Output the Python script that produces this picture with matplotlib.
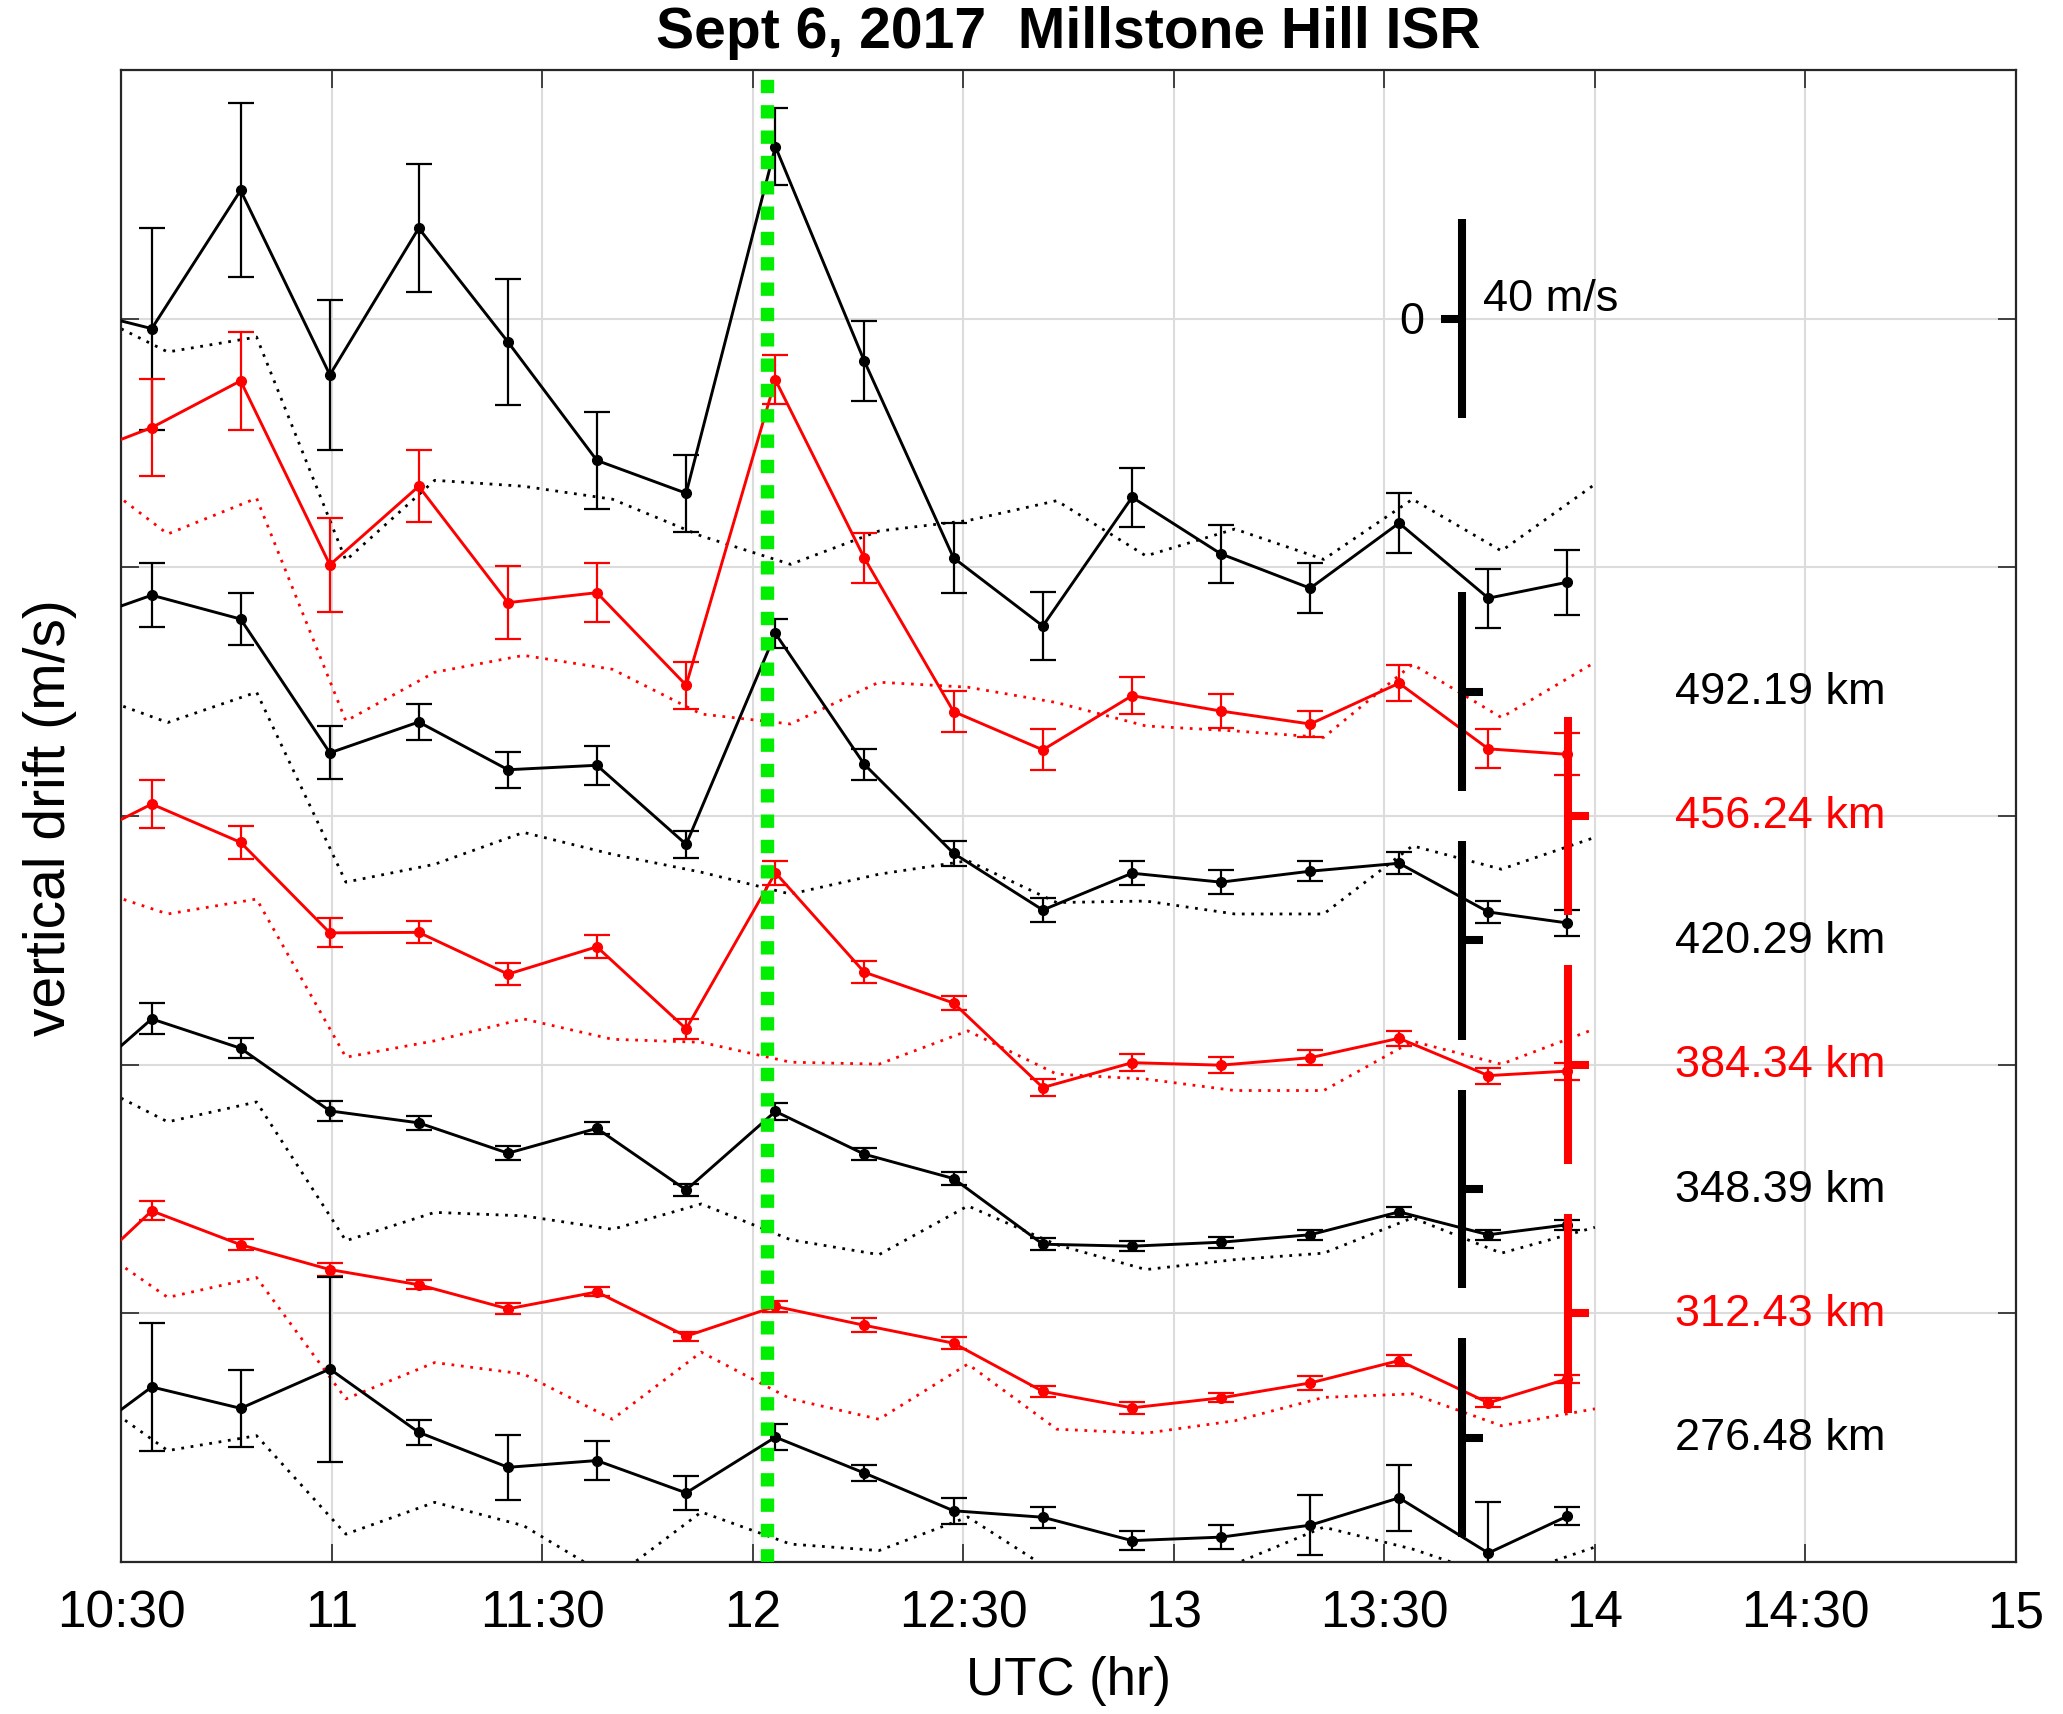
import matplotlib
matplotlib.use("Agg")
import matplotlib.pyplot as plt

plt.rcParams["font.family"] = ["Liberation Sans", "DejaVu Sans"]

# radar sample times (UTC hr); first one sits just left of the plotted window
t_obs = [10.362, 10.573, 10.784, 10.996, 11.207, 11.419, 11.630, 11.842, 12.054,
         12.265, 12.477, 12.689, 12.901, 13.112, 13.324, 13.535, 13.747, 13.934]
# model curve times (UTC hr)
t_model = [10.400, 10.611, 10.822, 11.034, 11.245, 11.456, 11.667, 11.878, 12.090,
           12.300, 12.511, 12.722, 12.934, 13.145, 13.356, 13.567, 13.778, 14.000]

alt_labels = ["492.19 km", "456.24 km", "420.29 km", "384.34 km",
              "348.39 km", "312.43 km", "276.48 km"]
alt_offsets = [175, 150, 125, 100, 75, 50, 25]
alt_colors = ["black", "red", "black", "red", "black", "red", "black"]

# vertical drift (m/s), 1-sigma error (m/s) and model drift (m/s) per altitude
v492 = [77.5, 73.0, 100.8, 63.7, 93.2, 70.3, 46.5, 39.9, 109.6, 66.5, 26.9, 13.2, 39.1, 27.7, 20.8, 33.9, 18.8, 22.0]
e492 = [20.3, 20.3, 17.5, 15.1, 12.9, 12.6, 9.8, 7.7, 7.8, 8.1, 7.1, 6.9, 5.9, 5.9, 5.0, 6.0, 5.9, 6.5]
m492 = [77.2, 68.3, 71.3, 26.4, 42.5, 41.3, 38.7, 31.3, 25.6, 32.3, 34.4, 38.4, 27.3, 32.7, 26.6, 38.7, 28.3, 41.7]

v456 = [71.2, 78.1, 87.5, 50.5, 66.3, 42.9, 44.9, 26.3, 87.7, 51.9, 21.0, 13.3, 24.2, 21.1, 18.5, 26.7, 13.5, 12.4]
e456 = [9.7, 9.7, 9.8, 9.4, 7.2, 7.3, 5.9, 4.7, 4.9, 5.0, 4.1, 4.1, 3.7, 3.5, 2.7, 3.6, 3.9, 4.2]
m456 = [70.3, 56.7, 63.9, 19.1, 28.9, 32.3, 29.5, 20.5, 18.5, 26.9, 25.9, 22.8, 18.1, 17.1, 15.8, 30.5, 19.8, 30.9]

v420 = [63.1, 69.4, 64.6, 37.7, 43.9, 34.3, 35.2, 19.3, 61.7, 35.4, 17.5, 6.1, 13.5, 11.7, 13.9, 15.5, 5.7, 3.5]
e420 = [6.4, 6.4, 5.2, 5.3, 3.7, 3.6, 3.9, 2.7, 2.9, 3.1, 2.5, 2.5, 2.4, 2.4, 2.0, 2.2, 2.3, 2.6]
m420 = [50.3, 43.8, 49.9, 11.7, 15.3, 21.7, 17.3, 13.7, 9.3, 13.3, 16.0, 7.6, 7.9, 5.3, 5.3, 19.0, 14.3, 20.7]

v384 = [43.4, 52.4, 44.7, 26.5, 26.6, 18.2, 23.7, 7.2, 38.6, 18.6, 12.4, -4.6, 0.4, -0.1, 1.4, 5.3, -2.2, -1.3]
e384 = [4.8, 4.8, 3.3, 2.9, 2.2, 2.2, 2.3, 2.0, 2.4, 2.2, 1.5, 1.7, 1.7, 1.6, 1.5, 1.5, 1.6, 1.7]
m384 = [36.2, 30.3, 33.3, 1.5, 4.8, 9.2, 5.1, 4.5, 0.5, 0.1, 6.8, -1.9, -2.9, -5.2, -5.2, 4.7, 0.1, 7.2]

v348 = [18.5, 34.2, 28.3, 15.7, 13.3, 7.2, 12.2, -0.2, 15.6, 7.0, 2.1, -11.1, -11.5, -10.7, -9.2, -4.6, -9.2, -7.2]
e348 = [3.1, 3.1, 2.0, 1.95, 1.45, 1.35, 1.2, 1.3, 1.7, 1.25, 1.25, 1.2, 1.05, 1.1, 1.05, 1.05, 1.05, 1.0]
m348 = [22.6, 13.5, 17.5, -10.4, -4.7, -5.4, -8.1, -3.0, -10.2, -13.2, -3.4, -11.2, -16.2, -14.2, -12.9, -5.8, -12.9, -7.7]

v312 = [3.8, 20.6, 13.8, 8.8, 5.75, 0.9, 4.3, -4.6, 1.4, -2.4, -6.0, -15.7, -19.0, -17.0, -14.0, -9.5, -18.0, -13.2]
e312 = [1.9, 1.9, 1.1, 1.35, 0.95, 1.1, 0.9, 0.9, 1.15, 1.4, 1.2, 1.15, 1.2, 0.9, 1.35, 1.15, 0.9, 0.9]
m312 = [15.6, 3.2, 7.2, -17.2, -9.9, -12.2, -21.3, -7.8, -17.2, -21.3, -10.2, -23.3, -24.1, -21.6, -16.9, -16.2, -22.6, -19.2]

v276 = [-3.05, 10.2, 5.9, 13.8, 1.08, -5.96, -4.6, -11.1, 0.1, -7.1, -14.7, -16.0, -20.7, -20.0, -17.6, -12.1, -23.2, -15.8]
e276 = [12.9, 12.85, 7.75, 18.6, 2.5, 6.5, 3.95, 3.35, 2.6, 1.6, 2.6, 2.1, 1.95, 2.35, 6.05, 6.7, 10.3, 1.85]
m276 = [10.1, -2.6, 0.4, -19.4, -13.0, -17.7, -28.4, -14.95, -21.4, -22.7, -15.95, -27.4, -32.4, -25.4, -18.0, -22.4, -28.4, -22.0]

drifts = [v492, v456, v420, v384, v348, v312, v276]
errors = [e492, e456, e420, e384, e348, e312, e276]
models = [m492, m456, m420, m384, m348, m312, m276]

flare_time = 12.033          # X9.3 flare peak
scale_half = 20              # half length of each 40 m/s reference bar
scale_zero = 250             # where the legend bar sits on the stacked axis

xticks = [10.5, 11, 11.5, 12, 12.5, 13, 13.5, 14, 14.5, 15]
xtick_labels = ["10:30", "11", "11:30", "12", "12:30", "13", "13:30", "14", "14:30", "15"]


def main():
    fig = plt.figure(figsize=(20.63, 17.15), dpi=100)
    ax = fig.add_axes([121 / 2063, 152 / 1715, 1895 / 2063, 1492 / 1715])

    ax.set_xlim(10.5, 15)
    ax.set_ylim(0, 300)

    # stacked drift profiles: model dotted, measurement with error bars
    for vals, errs, mod, off, col in zip(drifts, errors, models, alt_offsets, alt_colors):
        ax.plot(t_model, [m + off for m in mod], color=col, lw=2.0,
                linestyle=(0, (1, 2.4)), zorder=2)
        ax.errorbar(t_obs, [v + off for v in vals], yerr=errs, fmt="-o", color=col,
                    lw=2.1, ms=7, elinewidth=1.6, capsize=9.5, capthick=1.6, zorder=3)

    # per-altitude 40 m/s bars with a zero tick
    for off, col, lab in zip(alt_offsets, alt_colors, alt_labels):
        xb = 13.685 if col == "black" else 13.935
        ax.plot([xb, xb], [off - scale_half, off + scale_half], color=col, lw=5.8,
                solid_capstyle="butt", zorder=4)
        ax.plot([xb, xb + 0.05], [off, off], color=col, lw=5.8,
                solid_capstyle="butt", zorder=4)
        ax.text(14.19, off, lab, color=col, fontsize=32.5, ha="left", va="center")

    # reference bar at the top
    ax.plot([13.685, 13.685], [scale_zero - scale_half, scale_zero + scale_half],
            color="black", lw=5.8, solid_capstyle="butt", zorder=4)
    ax.plot([13.635, 13.685], [scale_zero, scale_zero], color="black", lw=5.8,
            solid_capstyle="butt", zorder=4)
    ax.text(13.595, scale_zero - 0.5, "0", fontsize=32.5, ha="right", va="center")
    ax.text(13.735, scale_zero + 4, "40 m/s", fontsize=32.5, ha="left", va="center")

    # flare onset marker
    ax.axvline(flare_time, color="#00ee00", lw=9.6, linestyle=(0, (1, 0.9)),
               dash_capstyle="butt", zorder=6)

    ax.set_xticks(xticks)
    ax.set_xticklabels(xtick_labels)
    ax.set_yticks([0, 50, 100, 150, 200, 250, 300])
    ax.set_yticklabels([])
    ax.tick_params(direction="in", length=13, width=1.2, top=True, right=True,
                   labelsize=37, pad=19, colors="#262626", labelcolor="black")
    ax.grid(True, color="#dcdcdc", lw=1.5)
    ax.set_axisbelow(True)
    for sp in ax.spines.values():
        sp.set_linewidth(1.6)
        sp.set_color("#262626")

    fig.text(1068 / 2063, 1 - 33 / 1715, "Sept 6, 2017  Millstone Hill ISR",
             fontsize=41, fontweight="bold", ha="center", va="center")
    fig.text(1068 / 2063, 1 - 1681 / 1715, "UTC (hr)", fontsize=38,
             ha="center", va="center")
    fig.text(50 / 2063, 1 - 818 / 1715, "vertical drift (m/s)", fontsize=41,
             rotation=90, ha="center", va="center")

    fig.savefig("out.png", dpi=100)


if __name__ == "__main__":
    main()
